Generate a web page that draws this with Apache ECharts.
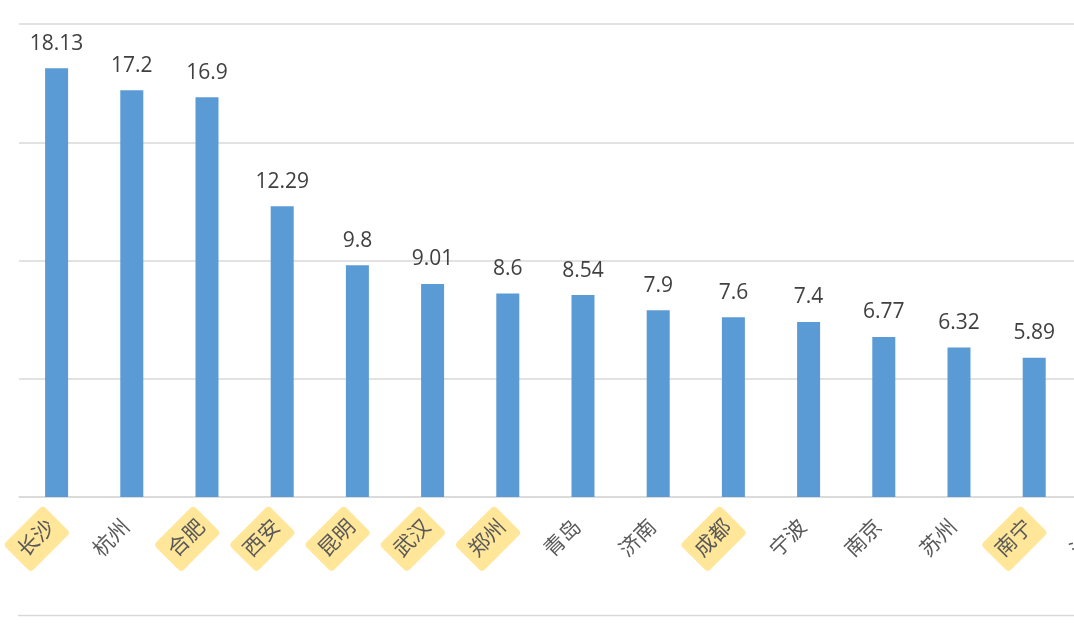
<!DOCTYPE html>
<html>
<head>
<meta charset="utf-8">
<script src="https://cdn.jsdelivr.net/npm/echarts@6/dist/echarts.min.js"></script>
<style>
html,body{margin:0;padding:0;background:#fff;}
#c{width:1074px;height:628px;}
</style>
</head>
<body>
<div id="c"></div>
<script>
// categories (15th is cut off at the right edge of the picture)
const cities = ['长沙','杭州','合肥','西安','昆明','武汉','郑州','青岛','济南','成都','宁波','南京','苏州','南宁','沈阳'];
const values = [18.13, 17.2, 16.9, 12.29, 9.8, 9.01, 8.6, 8.54, 7.9, 7.6, 7.4, 6.77, 6.32, 5.89, 5.5];
// cities marked with a yellow highlighter
const highlighted = ['长沙','合肥','西安','昆明','武汉','郑州','成都','南宁'];
const yMin = 0, yMax = 20, yStep = 5;

const FONT = "'Open Sans','Noto Sans CJK SC',sans-serif";
const chart = echarts.init(document.getElementById('c'), null, {renderer:'canvas'});
chart.setOption({
  animation: false,
  backgroundColor: '#ffffff',
  grid: {left: 19, width: 1128, top: 24, bottom: 131, containLabel: false, outerBoundsMode: 'none'},
  graphic: [{
    type: 'line',
    shape: {x1: 18, y1: 615.5, x2: 1074, y2: 615.5},
    style: {stroke: '#D9D9D9', lineWidth: 1.5}
  }],
  xAxis: {
    type: 'category',
    data: cities,
    axisLine: {show: true, lineStyle: {color: '#D9D9D9', width: 1.5}},
    axisTick: {show: false},
    splitLine: {show: false},
    axisLabel: {
      interval: 0,
      rotate: 45,
      margin: 22,
      color: '#595959',
      fontFamily: FONT,
      fontSize: 21,
      hideOverlap: false,
      formatter: function (v) {
        return highlighted.indexOf(v) >= 0 ? '{hl|' + v + '}' : '{n|' + v + '}';
      },
      rich: {
        hl: {backgroundColor: '#FFE699', borderRadius: 4, padding: [9, 7, 9, 7], color: '#595959', fontSize: 21, fontFamily: FONT},
        n: {padding: [9, 7, 9, 7], color: '#595959', fontSize: 21, fontFamily: FONT}
      }
    }
  },
  yAxis: {
    type: 'value',
    min: yMin, max: yMax, interval: yStep,
    axisLine: {show: false},
    axisTick: {show: false},
    axisLabel: {show: false},
    splitLine: {show: true, lineStyle: {color: '#D9D9D9', width: 1.5}}
  },
  series: [{
    type: 'bar',
    data: values,
    barWidth: 23,
    itemStyle: {color: '#5B9BD5'},
    label: {
      show: true,
      position: 'top',
      distance: 14,
      color: '#404040',
      fontFamily: FONT,
      fontSize: 21
    }
  }]
});
</script>
</body>
</html>
